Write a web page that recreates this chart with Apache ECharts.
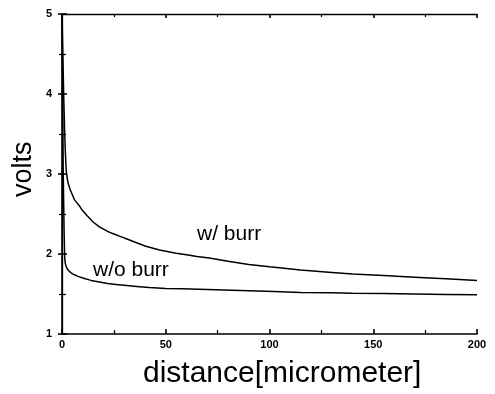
<!DOCTYPE html>
<html>
<head>
<meta charset="utf-8" />
<title>volts vs distance</title>
<script src="https://cdn.jsdelivr.net/npm/echarts@6/dist/echarts.min.js"></script>
<style>
  html, body { margin: 0; padding: 0; background: #fff; }
  #chart { width: 495px; height: 394px; }
</style>
</head>
<body>
<div id="chart"></div>
<script>
  // distance [micrometer] / volts
  var burrX = [0, 0.4, 0.8, 1.2, 1.5, 2, 2.5, 3, 4, 5, 6, 7.5, 8.7, 10, 12, 15, 18, 20, 23, 25, 28, 31, 35, 40,
               47, 55, 60, 65, 71, 80, 90, 100, 115, 130, 140, 155, 170, 185, 200];
  var burrY = [5, 4.5, 4.0, 3.6, 3.35, 3.05, 2.95, 2.88, 2.8, 2.74, 2.68, 2.63, 2.59, 2.54, 2.48, 2.40, 2.34, 2.31, 2.27, 2.25, 2.22, 2.19, 2.15, 2.10,
               2.05, 2.01, 1.99, 1.97, 1.95, 1.91, 1.87, 1.84, 1.80, 1.77, 1.75, 1.73, 1.71, 1.69, 1.67];

  var noBurrX = [0, 0.3, 0.6, 1.0, 1.3, 1.6, 2.2, 2.9, 3.5, 4.5, 6, 7.7, 10, 14, 18, 22, 26, 30, 36, 42,
                 50, 58, 66, 78, 90, 102, 115, 130, 140, 155, 170, 185, 200];
  var noBurrY = [5, 4.0, 3.0, 2.3, 1.95, 1.88, 1.83, 1.80, 1.78, 1.76, 1.74, 1.72, 1.70, 1.67, 1.65, 1.63, 1.62, 1.61, 1.595, 1.58,
                 1.57, 1.565, 1.56, 1.55, 1.54, 1.53, 1.52, 1.515, 1.51, 1.505, 1.50, 1.495, 1.49];

  var seriesNames = ['w/ burr', 'w/o burr'];
  var xTitle = 'distance[micrometer]';
  var yTitle = 'volts';

  function pairs(xs, ys) {
    var out = [];
    for (var i = 0; i < xs.length; i++) out.push([xs[i], ys[i]]);
    return out;
  }

  var chart = echarts.init(document.getElementById('chart'));

  var lineStyle = { color: '#000', width: 1.6 };
  var tickLabel = { color: '#000', fontSize: 11, fontWeight: 'bold', fontFamily: 'Liberation Sans' };
  var font = '"Liberation Sans", Arial, sans-serif';

  var option = {
    animation: false,
    grid: { left: 62, right: 18, top: 14, bottom: 60 },
    xAxis: [
      {
        type: 'value', min: 0, max: 200, interval: 50,
        axisLine: { lineStyle: lineStyle },
        axisTick: { inside: true, length: 5, lineStyle: lineStyle },
        minorTick: { show: true, splitNumber: 2, length: 4, lineStyle: { color: '#000', width: 1.2 } },
        splitLine: { show: false },
        axisLabel: Object.assign({ margin: 5 }, tickLabel)
      },
      {
        type: 'value', min: 0, max: 200, interval: 50, position: 'top',
        axisLine: { show: true, lineStyle: { color: '#000', width: 1.3 } },
        axisTick: { inside: true, length: 4, lineStyle: lineStyle },
        minorTick: { show: true, splitNumber: 2, length: 3, lineStyle: { color: '#000', width: 1.2 } },
        splitLine: { show: false },
        axisLabel: { show: false }
      }
    ],
    yAxis: [
      {
        type: 'value', min: 1, max: 5, interval: 1,
        axisLine: { lineStyle: lineStyle },
        axisTick: { inside: true, length: 5, lineStyle: lineStyle },
        minorTick: { show: true, splitNumber: 2, length: 4, lineStyle: { color: '#000', width: 1.2 } },
        splitLine: { show: false },
        axisLabel: Object.assign({ margin: 10 }, tickLabel)
      },
      {
        type: 'value', min: 1, max: 5, interval: 1, position: 'right',
        axisLine: { show: true, lineStyle: { color: '#000', width: 1.3 } },
        axisTick: { inside: true, length: 4, lineStyle: lineStyle },
        minorTick: { show: true, splitNumber: 2, length: 3, lineStyle: { color: '#000', width: 1.2 } },
        splitLine: { show: false },
        axisLabel: { show: false }
      }
    ],
    series: [
      {
        name: seriesNames[0], type: 'line', showSymbol: false,
        lineStyle: { color: '#000', width: 1.5 },
        data: pairs(burrX, burrY)
      },
      {
        name: seriesNames[1], type: 'line', showSymbol: false,
        lineStyle: { color: '#000', width: 1.5 },
        data: pairs(noBurrX, noBurrY)
      }
    ],
    graphic: [
      { type: 'text', left: 197, top: 224, style: { text: seriesNames[0], fill: '#000', font: '21px ' + font } },
      { type: 'text', left: 93, top: 260, style: { text: seriesNames[1], fill: '#000', font: '21px ' + font } },
      { type: 'text', left: 143, top: 359, style: { text: xTitle, fill: '#000', font: '30px ' + font } },
      { type: 'text', x: 10, y: 197, rotation: Math.PI / 2, style: { text: yTitle, fill: '#000', font: '27px ' + font } }
    ]
  };

  chart.setOption(option);
</script>
</body>
</html>
